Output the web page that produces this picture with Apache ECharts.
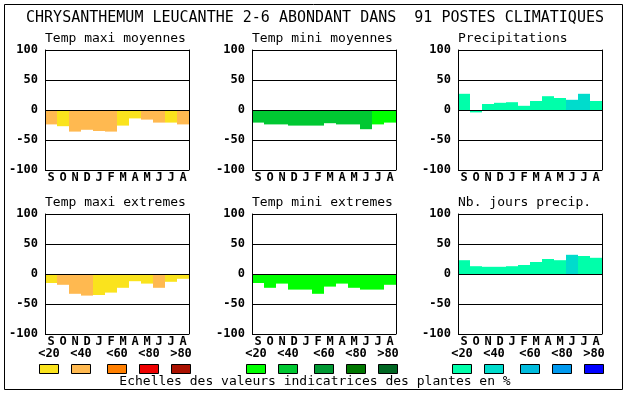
<!DOCTYPE html>
<html>
<head>
<meta charset="utf-8">
<script src="https://cdn.jsdelivr.net/npm/echarts@6/dist/echarts.min.js"></script>
<style>html,body{margin:0;padding:0;background:#fff}#c{width:630px;height:394px}</style>
</head>
<body>
<div id="c"></div>
<script>
const mainTitle = 'CHRYSANTHEMUM LEUCANTHE 2-6 ABONDANT DANS  91 POSTES CLIMATIQUES';
const footnote = 'Echelles des valeurs indicatrices des plantes en %';
const months = ['S','O','N','D','J','F','M','A','M','J','J','A'];
const classLabels = ['<20','<40','<60','<80','>80'];
const warmColors = ['#FAE31D','#FFB950','#FF7F00','#EE0000','#AA1100'];
const greenColors = ['#00FF00','#00C832','#009933','#007700','#006622'];
const blueColors = ['#00FFAA','#00DCCC','#00BBDD','#0099EE','#0000FF'];

const panelTitles = ['Temp maxi moyennes','Temp mini moyennes','Precipitations','Temp maxi extremes','Temp mini extremes','Nb. jours precip.'];

const tmaxMoyVals = [-24,-27,-36,-33,-35,-36,-26,-14,-16,-21,-21,-24];
const tmaxMoyCls  = [1,0,1,1,1,1,0,0,1,1,0,1];
const tminMoyVals = [-21,-24,-24,-26,-26,-26,-22,-24,-24,-32,-24,-21];
const tminMoyCls  = [1,1,1,1,1,1,1,1,1,1,0,0];
const precVals    = [27,-4,10,12,13,7,15,23,20,17,27,15];
const precCls     = [0,0,0,0,0,0,0,0,0,1,1,0];
const tmaxExtVals = [-15,-18,-33,-36,-35,-31,-23,-12,-16,-23,-13,-8];
const tmaxExtCls  = [0,1,1,1,0,0,0,0,0,1,0,0];
const tminExtVals = [-15,-23,-16,-26,-26,-33,-21,-16,-23,-26,-26,-18];
const tminExtCls  = [0,0,0,0,0,0,0,0,0,0,0,0];
const joursVals   = [23,13,12,12,13,15,20,25,23,32,30,27];
const joursCls    = [0,0,0,0,0,0,0,0,0,1,0,0];

const panelVals = [tmaxMoyVals,tminMoyVals,precVals,tmaxExtVals,tminExtVals,joursVals];
const panelCls = [tmaxMoyCls,tminMoyCls,precCls,tmaxExtCls,tminExtCls,joursCls];
const panelPalettes = [warmColors,greenColors,blueColors,warmColors,greenColors,blueColors];

const colLefts = [45,252,458];
const rowTops = [50,214];
const plotW = 144, plotH = 120;
const FONT = "'DejaVu Sans Mono', monospace";

const grids = [], xAxes = [], yAxes = [], series = [], graphics = [];
for (let i = 0; i < 6; i++) {
  const left = colLefts[i % 3], top = rowTops[Math.floor(i / 3)];
  grids.push({left: left, top: top, width: plotW, height: plotH, show: false});
  xAxes.push({
    gridIndex: i, type: 'category', data: months, z: 10,
    axisLine: {show: false}, axisTick: {show: false}, splitLine: {show: false},
    axisLabel: {color: '#000', fontFamily: FONT, fontWeight: 'bold', fontSize: 12, margin: 2, interval: 0}
  });
  yAxes.push({
    gridIndex: i, type: 'value', min: -100, max: 100, interval: 50, position: 'left', z: 10,
    axisLine: {show: true, lineStyle: {color: '#000', width: 1}}, axisTick: {show: false},
    axisLabel: {color: '#000', fontFamily: FONT, fontWeight: 'bold', fontSize: 12, margin: 7},
    splitLine: {show: true, lineStyle: {color: '#000', width: 1}}
  });
  yAxes.push({
    gridIndex: i, type: 'value', min: -100, max: 100, interval: 50, position: 'right', z: 10,
    axisLine: {show: true, lineStyle: {color: '#000', width: 1}}, axisTick: {show: false},
    axisLabel: {show: false}, splitLine: {show: false}
  });
  const pal = panelPalettes[i];
  series.push({
    type: 'bar', xAxisIndex: i, yAxisIndex: 2 * i, barWidth: '100%', barCategoryGap: '0%',
    data: panelVals[i].map((v, k) => ({value: v, itemStyle: {color: pal[panelCls[i][k]]}})),
    silent: true
  });
  graphics.push({
    type: 'text', x: left, y: top - 11,
    style: {text: panelTitles[i], font: "13px " + FONT, fill: '#000', textAlign: 'left', textVerticalAlign: 'middle'}
  });
}

// Outer frame
graphics.push({type: 'rect', shape: {x: 4.5, y: 4.5, width: 618, height: 385}, style: {fill: 'none', stroke: '#000', lineWidth: 1}, z: 0});
// Main title
graphics.push({type: 'text', x: 315, y: 18, style: {text: mainTitle, font: "15px " + FONT, fill: '#000', textAlign: 'center', textVerticalAlign: 'middle'}});
// Footnote
graphics.push({type: 'text', x: 315, y: 382, style: {text: footnote, font: "13px " + FONT, fill: '#000', textAlign: 'center', textVerticalAlign: 'middle'}});
// Colour keys
const keyOffsets = [-6, 26, 62, 94, 126];
const keyPalettes = [warmColors, greenColors, blueColors];
for (let g = 0; g < 3; g++) {
  for (let k = 0; k < 5; k++) {
    const bx = colLefts[g] + keyOffsets[k];
    graphics.push({type: 'rect', shape: {x: bx + 0.5, y: 364.5, width: 19, height: 9}, style: {fill: keyPalettes[g][k], stroke: '#000', lineWidth: 1}});
    graphics.push({type: 'text', x: bx + 10, y: 354, style: {text: classLabels[k], font: "bold 12px " + FONT, fill: '#000', textAlign: 'center', textVerticalAlign: 'middle'}});
  }
}

const chart = echarts.init(document.getElementById('c'), null, {renderer: 'canvas'});
chart.setOption({
  animation: false,
  backgroundColor: '#fff',
  grid: grids, xAxis: xAxes, yAxis: yAxes, series: series,
  graphic: graphics
});
</script>
</body>
</html>
